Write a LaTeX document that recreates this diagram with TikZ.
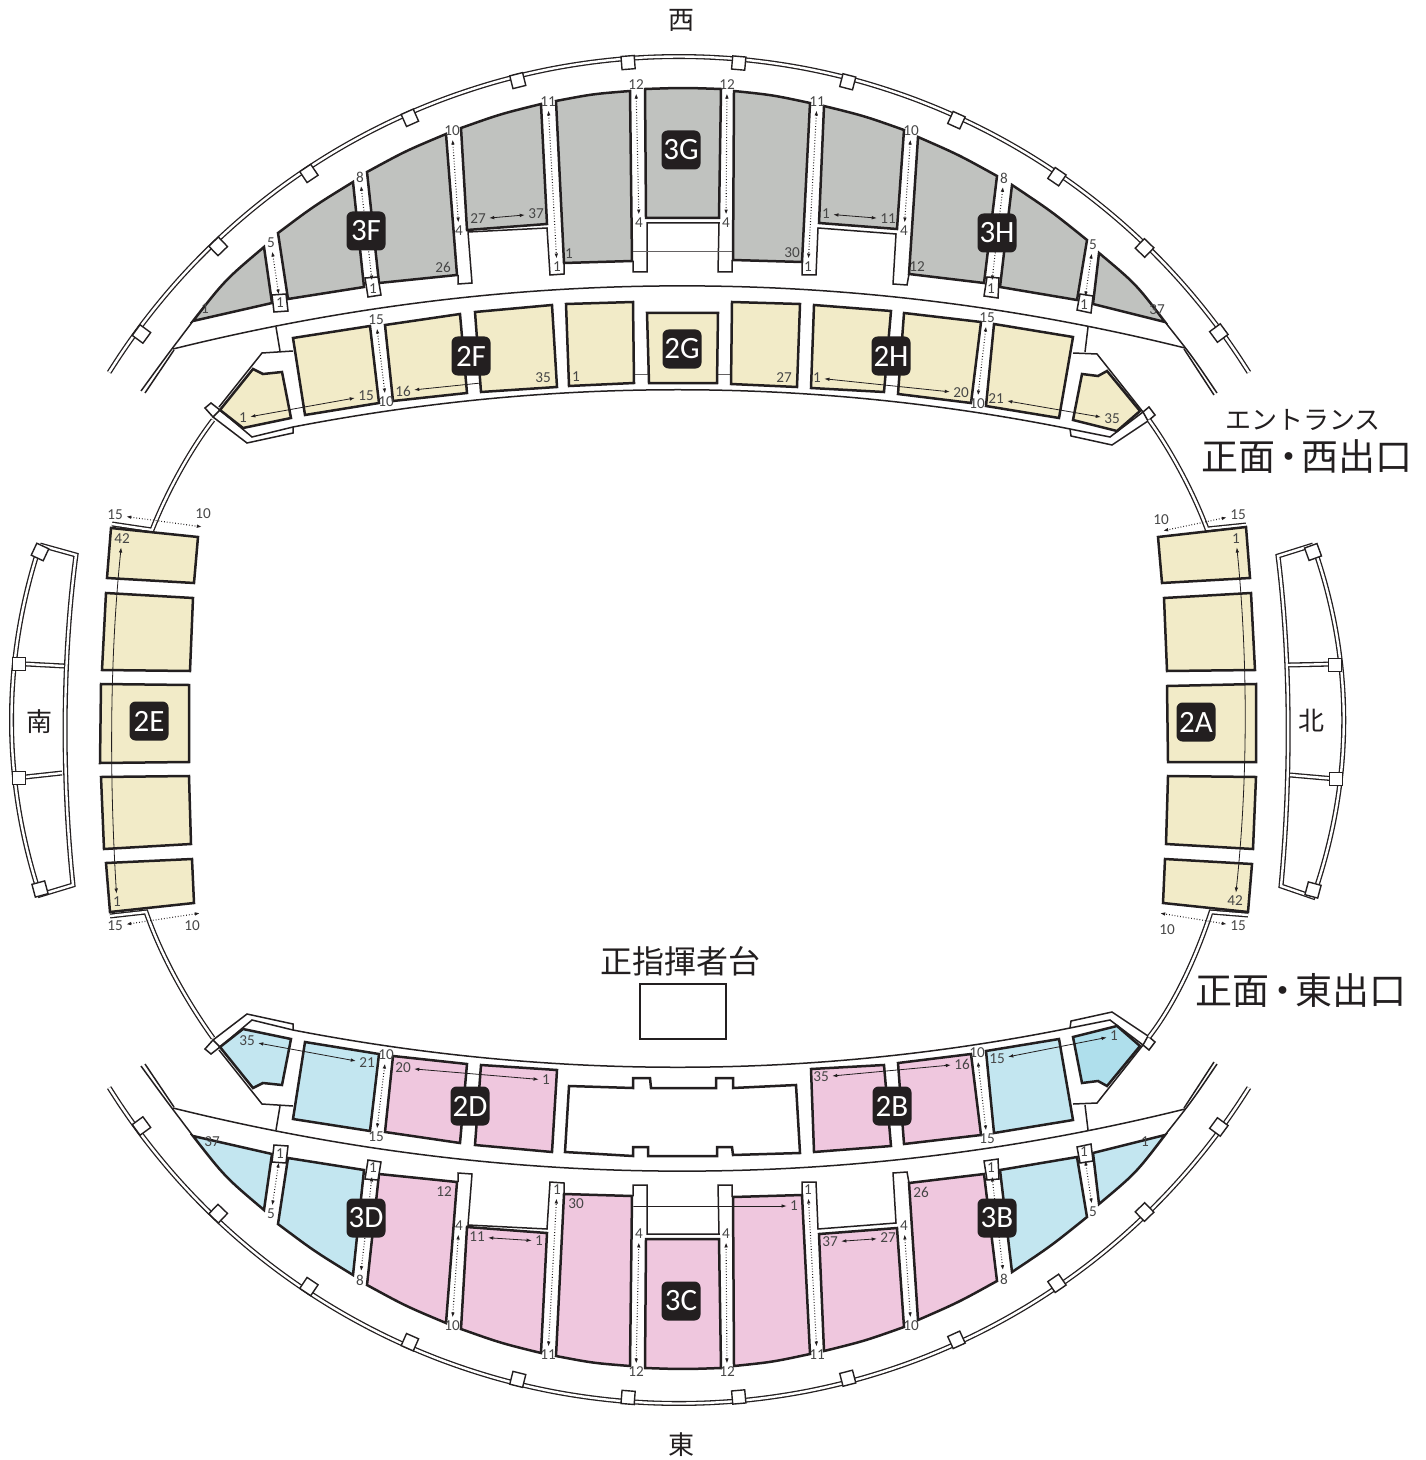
\documentclass[tikz,border=0pt]{standalone}
\usepackage{fontspec}
\setmainfont{Carlito}
\newfontfamily\cjk{Noto Sans CJK JP}
\usetikzlibrary{arrows.meta}
\definecolor{ink}{RGB}{35,31,32}
\definecolor{numgrey}{RGB}{70,70,70}
\definecolor{seatgrey}{RGB}{192,194,191}
\definecolor{seatyellow}{RGB}{242,235,200}
\definecolor{seatpink}{RGB}{239,199,222}
\definecolor{seatblue}{RGB}{195,230,240}
\definecolor{seatdeep}{RGB}{175,223,236}
\tikzset{
  seat/.style={draw=ink, line width=1.25pt, line join=miter, fill=#1},
  wall/.style={draw=ink, line width=.75pt},
  ring/.style={draw=ink, line width=.65pt, double=white, double distance=1.2pt},
  post/.style={draw=ink, line width=.7pt, fill=white, minimum size=6.6pt, inner sep=0pt, transform shape},
  num/.style={text=numgrey, font=\fontsize{7.6}{7.6}\selectfont, inner sep=1pt},
  rowarrow/.style={<->, >={Latex[length=2.6pt,width=1.8pt]}, draw=ink, line width=.4pt, shorten >=.5pt, shorten <=.5pt},
  aislearrow/.style={rowarrow, densely dotted, line width=.55pt},
  rowline/.style={draw=ink!70, line width=.4pt},
  badge/.style={fill=ink, text=white, rounded corners=3pt, minimum size=19.5pt, inner sep=0pt, font=\fontsize{15.5}{15.5}\selectfont},
  compass/.style={text=ink, font=\cjk\fontsize{13}{13}\selectfont},
  sign/.style={text=ink, font=\cjk\fontsize{18.5}{18.5}\selectfont, inner sep=0pt}
}
% aisle numbers and the dotted arrow between them
\newcommand{\aisle}[4]{
  \node[num] (na) at (#1) {#2};
  \node[num] (nb) at (#3) {#4};
  \draw[aislearrow] (na) -- (nb);
}
% the dotted arrow beside the side blocks, its far end free
\newcommand{\sidearrow}[5]{
  \node[num] (na) at (#1) {#2};
  \node[num] (nb) at (#3) {#4};
  \coordinate (nc) at (#5);
  \draw[aislearrow] (na) -- (nc);
}
\newcommand{\midot}[1]{\kern-2.6pt#1\kern-2.6pt}
% outer ring
\newcommand{\outerring}{
  \draw[ring] plot[domain=32:148,samples=70,smooth] ({679+672*cos(\x)},{728.5-672*sin(\x)});
  \foreach \a in {36.3,46,55.7,65.6,75.5,85,94.5,104.1,113.9,123.8,133.8,143.8}
    \node[post,rotate=\a] (ringpost\a) at ({680.5+668*cos(\a)},{728.5-668*sin(\a)}) {};
}
% one half of the bowl, drawn for the west side and mirrored for the east side
\newcommand{\bowl}[5]{
  % walkways
  \draw[wall] (141,391) .. controls (165,358) .. (193,321);
  \draw[wall] (145,393) -- (174,350);
  \draw[wall] (1217,393) .. controls (1192,356) .. (1165,322);
  \draw[wall] (1214,395) -- (1184,349);
  \draw[wall] (173,349) .. controls (512,265) and (850,265) .. (1185,348);
  \draw[wall] (220,410) -- (252,437) -- (293,427) .. controls (552,377) and (811,377) .. (1070,429) -- (1110,437) -- (1143,412);
  \draw[wall] (213,417) -- (247,443) -- (293,433) -- (293,427);
  \draw[wall] (1070,429) -- (1071,436) -- (1112,445) -- (1148,421);
  \draw[wall] (276,327) -- (280,351);
  \draw[wall] (293,351) -- (262,353) -- (219,407);
  \draw[wall] (1088,327) -- (1085,352);
  \draw[wall] (1073,353) -- (1097,354) -- (1143,412);
  \draw[wall,fill=white] (205,408) -- (211,403) -- (220,410) -- (213,417) -- cycle;
  \draw[wall,fill=white] (1143,412) -- (1149,407) -- (1155,415) -- (1148,421) -- cycle;
  % upper tier
  \draw[seat=#1] (193,321) .. controls (225,280) .. (264,247) -- (272,303) -- cycle;
  \draw[seat=#1] (278,233) .. controls (314,206) .. (353,182) -- (364,287) -- (288,299) -- cycle;
  \draw[seat=#2] (367,172) .. controls (405.5,151) .. (446,134) -- (457,275) -- (379,283) -- cycle;
  \draw[seat=#2] (461,128) .. controls (500.5,114) .. (541,104) -- (547,224) -- (467,230) -- cycle;
  \draw[seat=#2] (556,101) .. controls (592.7,94) .. (630,91) -- (632,261) -- (564,263) -- cycle;
  \draw[seat=#2] (645,89) .. controls (683,87.7) .. (721,89) -- (719,218) -- (646,218) -- cycle;
  \draw[seat=#2] (734,91) .. controls (772.5,95) .. (810,103) -- (802,262) -- (733,260) -- cycle;
  \draw[seat=#2] (824,106) .. controls (864.5,116) .. (904,130) -- (897,229) -- (819,223) -- cycle;
  \draw[seat=#2] (918,137) .. controls (958.5,154.7) .. (997,176) -- (984,283) -- (909,274) -- cycle;
  \draw[seat=#1] (1012,185) .. controls (1051,211) .. (1087,240) -- (1077,300) -- (1000,287) -- cycle;
  \draw[seat=#1] (1099,253) .. controls (1136,284) .. (1165,322) -- (1093,304) -- cycle;
  % aisle ends and doors
  \draw[wall,fill=white] (272,295) -- (274,312) -- (288,311) -- (286,294) -- cycle;
  \draw[wall,fill=white] (365,278) -- (368,297) -- (381,295) -- (378,277) -- cycle;
  \draw[wall] (458,275) -- (458,284) -- (472,283) -- (468,232) -- (547,228) -- (550,275) -- (564,274) -- (564,263);
  \draw[wall] (633,261) -- (633,272) -- (647,272) -- (647,223) -- (719,223) -- (718,272) -- (732,272) -- (732,260);
  \draw[rowline] (633,251) -- (732,251);
  \draw[wall] (802,262) -- (802,275) -- (816,275) -- (818,228) -- (896,234) -- (893,284) -- (907,285) -- (909,274);
  \draw[wall,fill=white] (987,277) -- (984,296) -- (998,298) -- (999,278) -- cycle;
  \draw[wall,fill=white] (1080,294) -- (1077,310) -- (1091,313) -- (1093,296) -- cycle;
  % lower tier
  \draw[seat=#3] (220,410) -- (253,369) -- (263,374) -- (282,372) -- (291,418) -- (243,428) -- cycle;
  \draw[seat=#3] (293,338) -- (370,326) -- (379,403) -- (305,415) -- cycle;
  \draw[seat=#4] (385,325) -- (460,314) -- (467,393) -- (393,401) -- cycle;
  \draw[seat=#4] (475,312) -- (552,305) -- (557,387) -- (481,392) -- cycle;
  \draw[seat=#4] (814,305) -- (891,311) -- (884,392) -- (811,388) -- cycle;
  \draw[seat=#4] (904,313) -- (981,322) -- (971,403) -- (898,394) -- cycle;
  \draw[seat=#3] (994,324) -- (1073,337) -- (1059,418) -- (986,406) -- cycle;
  \draw[seat=#5] (1082,374) -- (1098,376) -- (1107,371) -- (1140,411) -- (1117,431) -- (1073,420) -- cycle;
  % aisle numbers
  \aisle{271,243}{5}{280,303}{1}
  \aisle{360,177}{8}{373,289}{1}
  \aisle{452,131}{10}{459,231}{4}
  \aisle{548,102}{11}{557,267}{1}
  \aisle{636,85}{12}{639,223}{4}
  \aisle{727,85}{12}{726,223}{4}
  \aisle{817,102}{11}{808,267}{1}
  \aisle{911,131}{10}{904,231}{4}
  \aisle{1004,178}{8}{991,289}{1}
  \aisle{1093,245}{5}{1084,305}{1}
  \aisle{376,320}{15}{386,402}{10}
  \aisle{987,318}{15}{977,404}{10}
}
\begin{document}
\begin{tikzpicture}[x=.5pt,y=-.5pt]
  \path[use as bounding box] (0,0) rectangle (1425,1460);

  % west half
  \outerring
  \bowl{seatgrey}{seatgrey}{seatyellow}{seatyellow}{seatyellow}
  \draw[rowline] (634,374) -- (648,374);
  \draw[rowline] (717,374) -- (731,374);
  \draw[seat=seatyellow] (566,304) -- (633,302) -- (634,383) -- (569,386) -- cycle;
  \draw[seat=seatyellow] (647,313) -- (718,313) -- (717,383) -- (649,383) -- cycle;
  \draw[seat=seatyellow] (732,302) -- (800,304) -- (797,387) -- (731,384) -- cycle;

  % east half
  \begin{scope}[shift={(0,1460)},yscale=-1]
    \outerring
  \end{scope}
  \begin{scope}[shift={(0,1457)},yscale=-1]
    \bowl{seatblue}{seatpink}{seatblue}{seatpink}{seatdeep}
  \end{scope}
  \draw[seat=white] (569,1086) -- (633,1088) -- (633,1078) -- (650,1078) -- (651,1088) -- (716,1088) -- (716,1078) -- (733,1078) -- (733,1088) -- (796,1085) -- (800,1153) -- (733,1155) -- (732,1147) -- (717,1147) -- (717,1156) -- (648,1156) -- (648,1147) -- (633,1147) -- (633,1156) -- (565,1152) -- cycle;

  % rings down to the side stands
  \draw[ring] (213,420) .. controls (190,450) and (167,492) .. (152,530) -- (112,524);
  \draw[ring] (1149,420) .. controls (1172,452) and (1194,494) .. (1207,529) -- (1246,525);
  \draw[ring] (213,1038) .. controls (188,1003) and (162,958) .. (146,912) -- (110,916);
  \draw[ring] (1149,1037) .. controls (1174,1005) and (1196,958) .. (1211,912) -- (1248,915);

  % side blocks
  \foreach \c in {
    {(111,528) -- (198,537) -- (194,583) -- (107,578)},
    {(106,593) -- (193,598) -- (190,671) -- (102,670)},
    {(101,684) -- (189,685) -- (189,762) -- (100,763)},
    {(101,777) -- (189,776) -- (191,844) -- (104,849)},
    {(106,863) -- (192,859) -- (194,903) -- (110,912)},
    {(1158,537) -- (1246,527) -- (1250,578) -- (1162,583)},
    {(1164,598) -- (1251,593) -- (1255,670) -- (1167,671)},
    {(1167,686) -- (1256,684) -- (1256,762) -- (1168,762)},
    {(1168,776) -- (1256,777) -- (1253,849) -- (1166,844)},
    {(1165,859) -- (1252,864) -- (1248,912) -- (1163,903)}}
    \draw[seat=seatyellow] \c -- cycle;

  % side stands
  \draw[ring] (40,545) -- (76,555) .. controls (62,660) and (62,780) .. (73,885) -- (40,895) .. controls (2,780) and (2,660) .. (40,545);
  \draw[ring] (26,664) -- (64,666);
  \draw[ring] (25,777) -- (62,773);
  \draw[ring] (1313,545) -- (1278,556) .. controls (1291,660) and (1291,780) .. (1281,886) -- (1313,897) .. controls (1354,780) and (1354,660) .. (1313,545);
  \draw[ring] (1288,665) -- (1335,664);
  \draw[ring] (1290,775) -- (1336,779);
  \node[post,rotate=-25] (poststandsa) at (40,552) {};
  \node[post] (poststandsb) at (19,664) {};
  \node[post] (poststandsc) at (19,778) {};
  \node[post,rotate=15] (poststandsd) at (40,889) {};
  \node[post,rotate=20] (poststandna) at (1313,552) {};
  \node[post] (poststandnb) at (1335,665) {};
  \node[post] (poststandnc) at (1336,779) {};
  \node[post,rotate=-15] (poststandnd) at (1313,890) {};

  % row numbers, upper tier west
  \node[num] (w1) at (205,309) {1};
  \node[num] (w26) at (443,267) {26};
  \node[num] (w27) at (478,219) {27};
  \node[num] (w37) at (536,214) {37};
  \draw[rowarrow] (w27) -- (w37);
  \node[num] (w1b) at (569,254) {1};
  \node[num] (w30) at (792,253) {30};
  \node[num] (w1c) at (826,214) {1};
  \node[num] (w11) at (888,219) {11};
  \draw[rowarrow] (w1c) -- (w11);
  \node[num] (w12) at (917,267) {12};
  \node[num] (w37b) at (1157,310) {37};

  % row numbers, lower tier west
  \node[num] (f1) at (243,418) {1};
  \node[num] (f15) at (366,396) {15};
  \draw[rowarrow] (f1) -- (f15);
  \node[num] (f16) at (403,391) {16};
  \coordinate (fgap) at (481,383);
  \draw[rowarrow,<-] (f16) -- (fgap);
  \node[num] (f35) at (543,378) {35};
  \node[num] (g1) at (576,377) {1};
  \node[num] (g27) at (784,378) {27};
  \node[num] (h1) at (817,378) {1};
  \node[num] (h20) at (961,393) {20};
  \draw[rowarrow] (h1) -- (h20);
  \node[num] (h21) at (996,399) {21};
  \node[num] (h35) at (1112,419) {35};
  \draw[rowarrow] (h21) -- (h35);

  % row numbers, east
  \node[num] (e37) at (212,1142) {37};
  \node[num] (e12) at (444,1192) {12};
  \node[num] (e11) at (477,1237) {11};
  \node[num] (e1) at (539,1241) {1};
  \draw[rowarrow] (e11) -- (e1);
  \node[num] (e30) at (576,1204) {30};
  \coordinate (edoor) at (633,1206);
  \node[num] (e1b) at (794,1206) {1};
  \draw[rowarrow,<-] (e1b) -- (edoor);
  \node[num] (e37b) at (830,1242) {37};
  \node[num] (e27) at (888,1238) {27};
  \draw[rowarrow] (e37b) -- (e27);
  \node[num] (e26) at (921,1192) {26};
  \node[num] (e1c) at (1145,1142) {1};
  \node[num] (d35) at (247,1041) {35};
  \node[num] (d21) at (367,1063) {21};
  \draw[rowarrow] (d35) -- (d21);
  \node[num] (d20) at (403,1068) {20};
  \node[num] (d1) at (546,1080) {1};
  \draw[rowarrow] (d20) -- (d1);
  \node[num] (b35) at (821,1077) {35};
  \node[num] (b16) at (962,1064) {16};
  \draw[rowarrow] (b35) -- (b16);
  \node[num] (b15) at (997,1059) {15};
  \node[num] (b1) at (1114,1036) {1};
  \draw[rowarrow] (b15) -- (b1);

  % row numbers, side blocks
  \node[num] (s42) at (122,539) {42};
  \node[num] (s1) at (117,902) {1};
  \draw[rowarrow] (s42) .. controls (109.5,660) and (109.5,780) .. (s1);
  \node[num] (n1) at (1236,539) {1};
  \node[num] (n42) at (1235,901) {42};
  \draw[rowarrow] (n1) .. controls (1248,660) and (1248,780) .. (n42);
  \sidearrow{115,515}{15}{203,514}{10}{203,527}
  \sidearrow{115,926}{15}{192,926}{10}{201,913}
  \sidearrow{1238,515}{15}{1161,520}{10}{1162,531}
  \sidearrow{1238,926}{15}{1167,930}{10}{1159,913}

  % block badges
  \node[badge] (b3g) at (681,150) {3G};
  \node[badge] (b3f) at (366,231) {3F};
  \node[badge] (b3h) at (997,233) {3H};
  \node[badge] (b2f) at (471,356) {2F};
  \node[badge] (b2g) at (682,349) {2G};
  \node[badge] (b2h) at (891,356) {2H};
  \node[badge] (b2e) at (149,721) {2E};
  \node[badge] (b2a) at (1196,722) {2A};
  \node[badge] (b3d) at (366,1218) {3D};
  \node[badge] (b2d) at (470,1106) {2D};
  \node[badge] (b3c) at (681,1301) {3C};
  \node[badge] (b2b) at (892,1106) {2B};
  \node[badge] (b3b) at (997,1218) {3B};

  % compass and signs
  \node[compass] (west) at (681,20) {西};
  \node[compass] (east) at (681,1445) {東};
  \node[compass] (south) at (39,722) {南};
  \node[compass] (north) at (1311,721) {北};
  \node[sign,font=\cjk\fontsize{13}{13}\selectfont] (entrance) at (1303,420) {エントランス};
  \node[sign] (westexit) at (1307,457) {正面\midot{・}西出口};
  \node[sign] (eastexit) at (1301,990) {正面\midot{・}東出口};
  \node[sign,font=\cjk\fontsize{16}{16}\selectfont] (podiumtext) at (680,961) {正指揮者台};
  \node[draw=ink,line width=.8pt,minimum width=43pt,minimum height=27.5pt,inner sep=0pt] (podium) at (683,1011.5) {};
\end{tikzpicture}
\end{document}
